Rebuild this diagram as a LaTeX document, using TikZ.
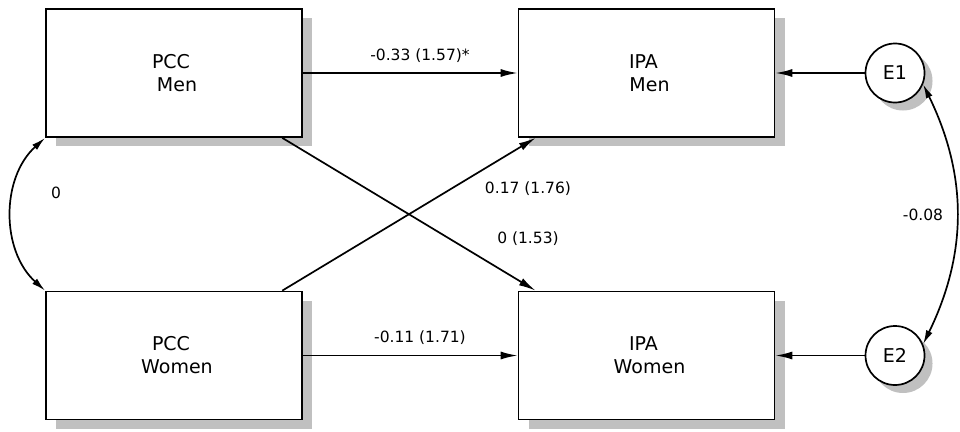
\documentclass[tikz,border=0pt]{standalone}
\usepackage{fontspec}
\setmainfont{DejaVu Sans}
\usetikzlibrary{arrows.meta,shadows,calc}
\definecolor{shadowgray}{RGB}{192,192,192}
\tikzset{
  box/.style={draw, line width=1.7pt, fill=white, minimum width=256pt, minimum height=128pt,
    inner sep=0pt, align=center, font=\fontsize{19}{23}\selectfont,
    drop shadow={shadow xshift=10pt, shadow yshift=-9pt, fill=shadowgray, opacity=1}},
  err/.style={draw, circle, line width=1.7pt, fill=white, minimum size=59pt, inner sep=0pt,
    font=\fontsize{19}{23}\selectfont,
    drop shadow={shadow xshift=8pt, shadow yshift=-8pt, fill=shadowgray, opacity=1}},
  lab/.style={font=\fontsize{15.5}{18}\selectfont, inner sep=1pt},
  arr/.style={line width=1.7pt, -{Latex[length=17pt,width=8pt]}},
  darr/.style={line width=1.7pt, {Latex[length=14pt,width=7pt]}-{Latex[length=14pt,width=7pt]}},
}
\begin{document}
\begin{tikzpicture}[x=1pt,y=-1pt]
\useasboundingbox (0,0) rectangle (960,431);
\node[box] (pm) at (174,73) {PCC\hspace*{6pt}\\\hspace*{6pt}Men};
\node[box] (pw) at (174,355.5) {PCC\hspace*{6pt}\\\hspace*{6pt}Women};
\node[box] (im) at (646.5,73) {IPA\hspace*{6pt}\\\hspace*{6pt}Men};
\node[box] (iw) at (646.5,355.5) {IPA\hspace*{6pt}\\\hspace*{6pt}Women};
\node[err] (e1) at (895,73) {E1};
\node[err] (e2) at (895,355.5) {E2};

\draw[arr] (pm.east) -- (im.west);
\draw[arr] (pw.east) -- (iw.west);
\draw[arr] ($(pm.south west)!0.92!(pm.south east)$) -- ($(iw.north west)+(18,0)$);
\draw[arr] ($(pw.north west)!0.92!(pw.north east)$) -- ($(im.south west)+(18,0)$);
\draw[arr] (e1) -- (im.east);
\draw[arr] (e2) -- (iw.east);
\draw[darr] (pm.south west) to[bend right=48] (pw.north west);
\draw[darr] (e1.-22) to[bend left=26] (e2.22);

\node[lab] (l1) at (420,56) {-0.33 (1.57)*};
\node[lab] (l2) at (420,338) {-0.11 (1.71)};
\node[lab] (l3) at (528,189) {0.17 (1.76)};
\node[lab] (l4) at (528,239) {0 (1.53)};
\node[lab] (l5) at (56,193) {0};
\node[lab] (l6) at (923,215) {-0.08};
\end{tikzpicture}
\end{document}
